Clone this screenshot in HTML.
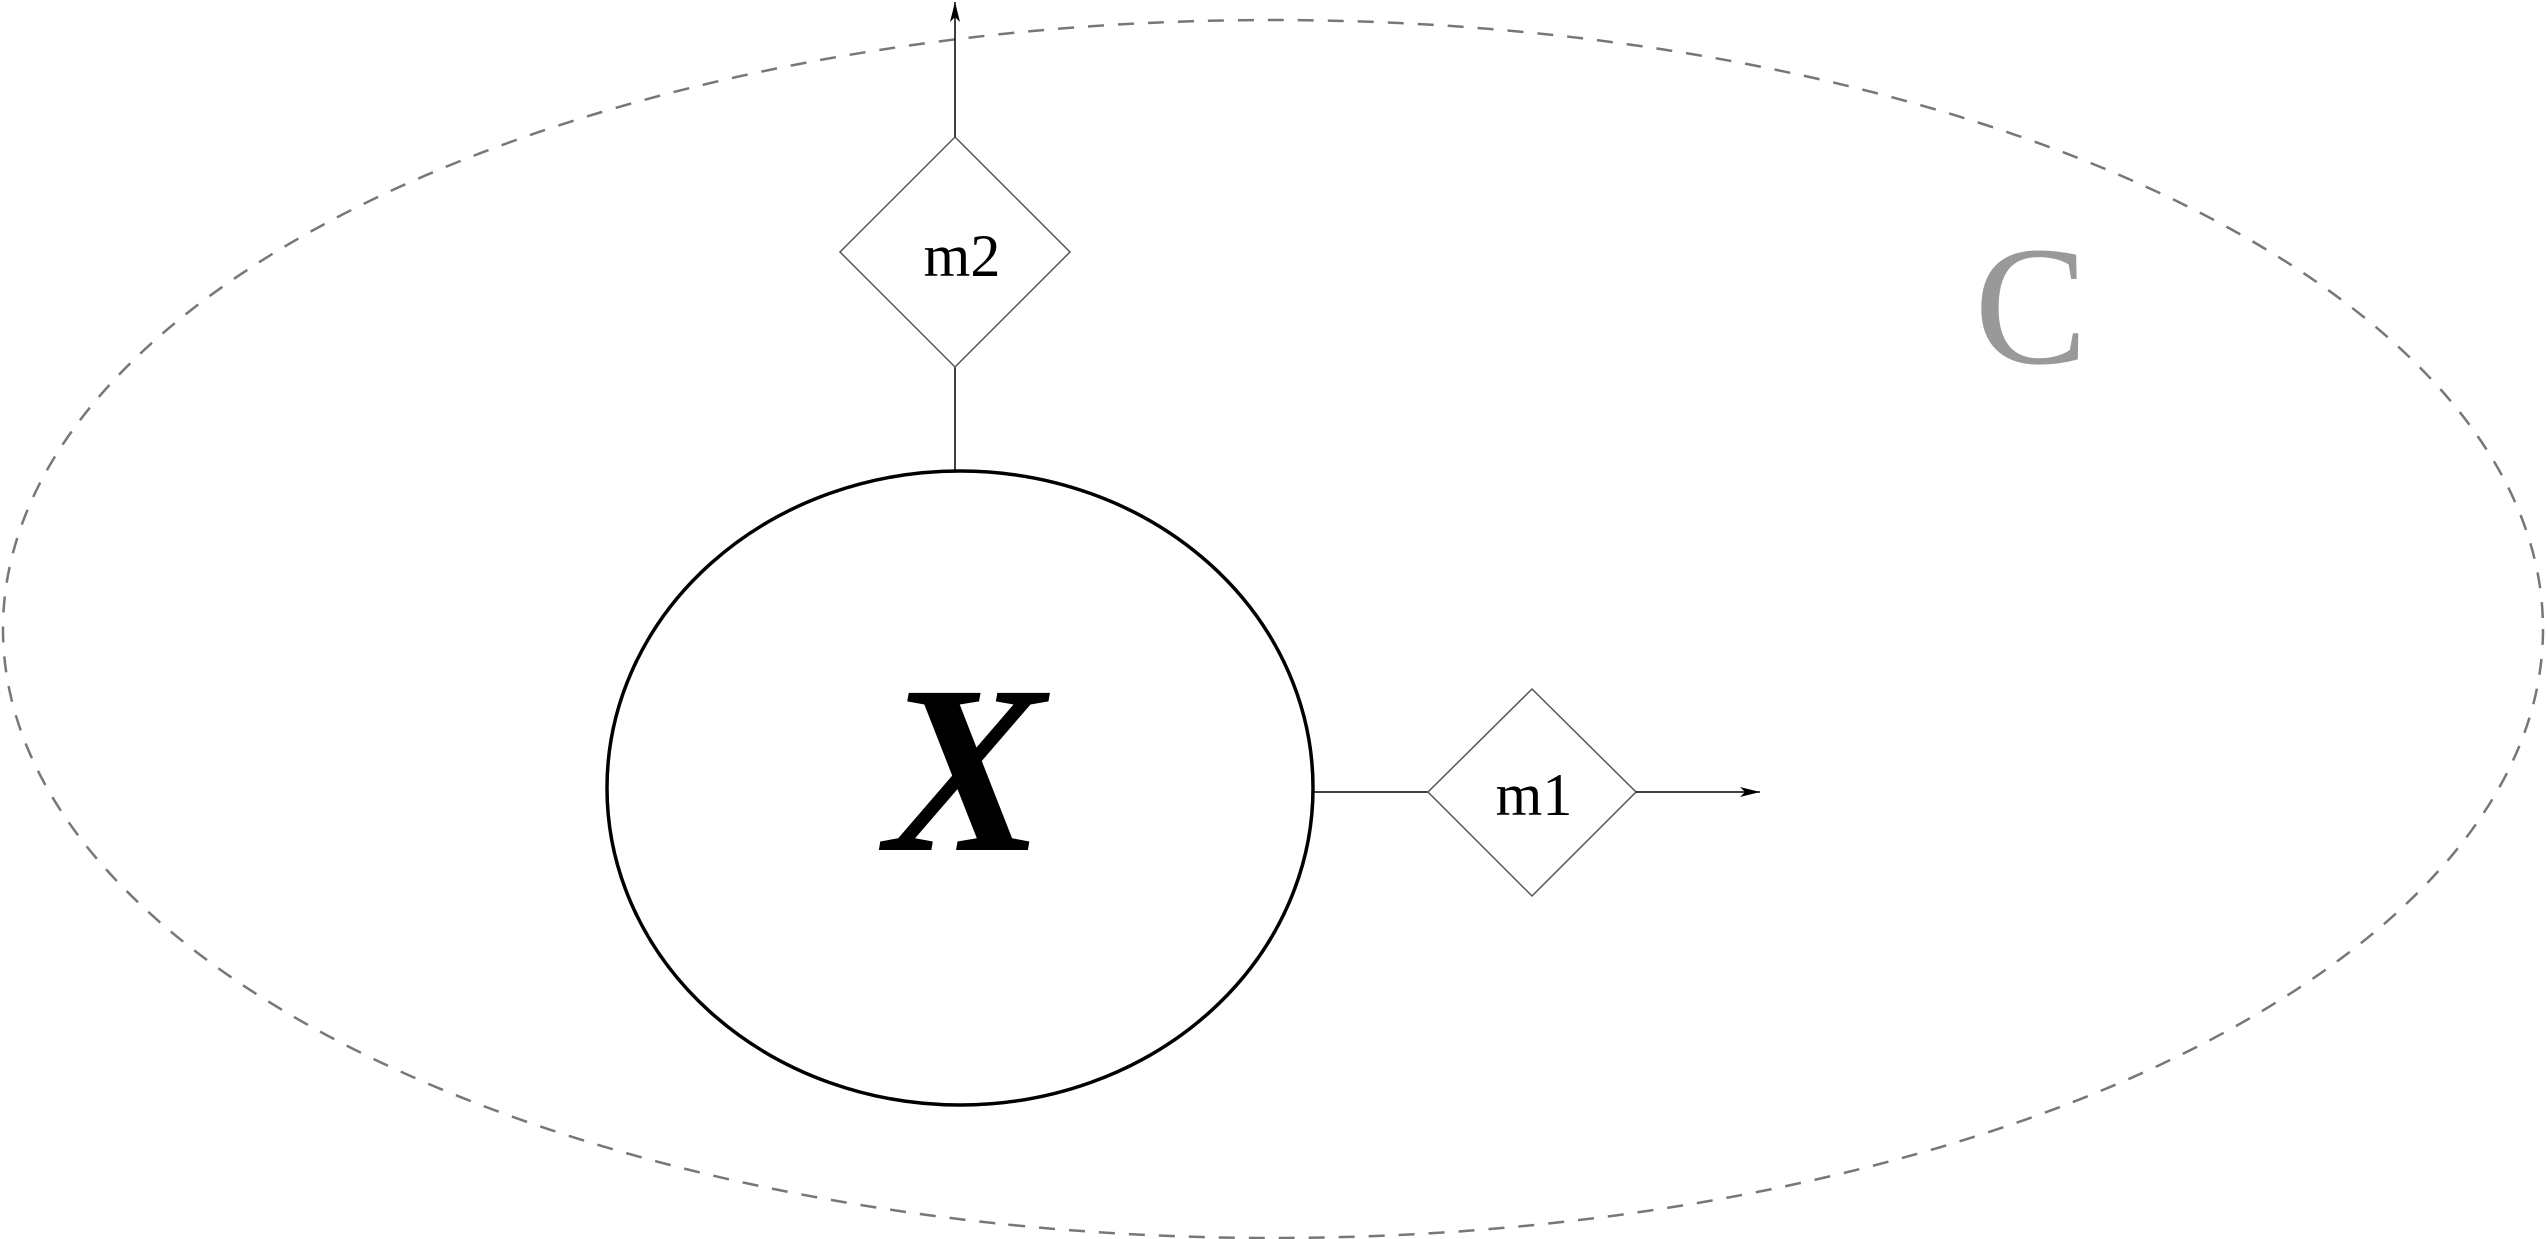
<!DOCTYPE html>
<html><head><meta charset="utf-8"><style>
html,body{margin:0;padding:0;background:#fff;}
svg{display:block;}
</style></head><body>
<svg width="2548" height="1239" viewBox="0 0 2548 1239" xmlns="http://www.w3.org/2000/svg">
<defs>
<marker id="ah" viewBox="0 0 20 10" refX="20" refY="5" markerWidth="20" markerHeight="10" markerUnits="userSpaceOnUse" orient="auto">
<path d="M0,0 L20,5 L0,10 L5,5 Z" fill="#000"/>
</marker>
</defs>
<ellipse cx="1273" cy="629" rx="1270" ry="609" fill="none" stroke="#777" stroke-width="2.5" stroke-dasharray="16,14"/>
<text x="2031" y="363" font-family="Liberation Serif, serif" font-size="170" fill="#999" text-anchor="middle">C</text>
<ellipse cx="960" cy="788" rx="353" ry="317" fill="none" stroke="#000" stroke-width="3.5"/>
<text x="965" y="850" font-family="Liberation Serif, serif" font-style="italic" font-weight="bold" font-size="240" fill="#000" text-anchor="middle">X</text>
<line x1="955" y1="367" x2="955" y2="472" stroke="#000" stroke-width="1.5"/>
<polygon points="955,137 1070,252 955,367 840,252" fill="#fff" stroke="#555" stroke-width="1.5"/>
<text x="962" y="276" font-family="Liberation Serif, serif" font-size="60" fill="#000" text-anchor="middle">m2</text>
<line x1="955" y1="137" x2="955" y2="2" stroke="#000" stroke-width="1.5" marker-end="url(#ah)"/>
<line x1="1313" y1="792" x2="1428" y2="792" stroke="#000" stroke-width="1.5"/>
<polygon points="1532,689 1636,792 1532,896 1428,792" fill="#fff" stroke="#555" stroke-width="1.5"/>
<text x="1534" y="815" font-family="Liberation Serif, serif" font-size="60" fill="#000" text-anchor="middle">m1</text>
<line x1="1636" y1="792" x2="1760" y2="792" stroke="#000" stroke-width="1.5" marker-end="url(#ah)"/>
</svg>
</body></html>
